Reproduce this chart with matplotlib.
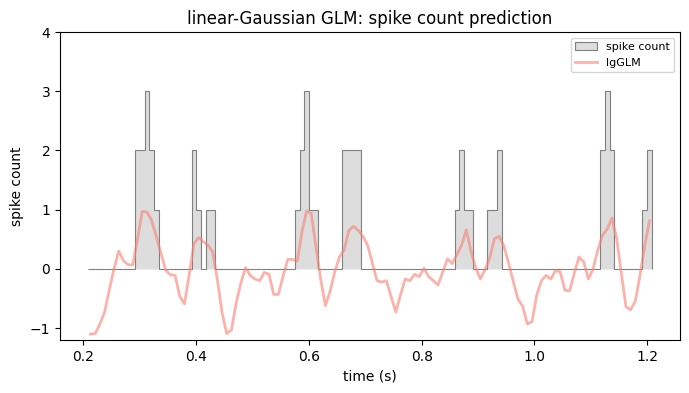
import numpy as np
import matplotlib
matplotlib.use("Agg")
import matplotlib.pyplot as plt

# time bins (1/120 s), bin edge indices 25..145
bin_dt = 1.0 / 120.0
first_bin = 25
n_bins = 120

# spike counts per bin (bin index -> count), all other bins are 0
spike_bins = [35, 36, 37, 38, 39, 47, 48, 50, 51, 69, 70, 71, 72, 73,
              79, 80, 81, 82, 103, 104, 105, 106, 110, 111, 112,
              134, 135, 136, 143, 144]
spike_vals = [2, 2, 3, 2, 1, 2, 1, 1, 1, 1, 2, 3, 1, 1,
              2, 2, 2, 2, 1, 2, 1, 1, 1, 1, 2,
              2, 3, 2, 1, 2]

# linear-Gaussian GLM prediction at bin centers (bins 25..144)
lgglm_pred = [
    -1.10, -1.09, -0.93, -0.73, -0.35, 0.00, 0.30, 0.14, 0.07, 0.07,
    0.50, 0.97, 0.96, 0.82, 0.55, 0.26, -0.02, -0.10, -0.11, -0.46,
    -0.59, -0.10, 0.42, 0.53, 0.46, 0.40, 0.29, -0.18, -0.74, -1.09,
    -1.03, -0.58, -0.24, 0.02, -0.11, -0.17, -0.20, -0.06, -0.09, -0.43,
    -0.43, -0.12, 0.16, 0.16, 0.13, 0.62, 0.98, 0.93, 0.37, -0.17,
    -0.62, -0.38, -0.05, 0.20, 0.32, 0.65, 0.72, 0.65, 0.55, 0.40,
    0.10, -0.20, -0.22, -0.20, -0.47, -0.73, -0.44, -0.17, -0.20, -0.09,
    -0.13, 0.01, -0.13, -0.20, -0.27, -0.05, 0.17, 0.09, 0.24, 0.40,
    0.66, 0.30, 0.02, -0.17, -0.01, 0.19, 0.51, 0.55, 0.39, 0.10,
    -0.21, -0.51, -0.63, -0.93, -0.89, -0.44, -0.20, -0.11, -0.17, -0.03,
    -0.05, -0.36, -0.37, -0.07, 0.20, 0.12, -0.17, 0.00, 0.32, 0.57,
    0.67, 0.86, 0.52, -0.07, -0.64, -0.69, -0.54, -0.10, 0.40, 0.81,
]

edges = (first_bin + np.arange(n_bins + 1)) * bin_dt
counts = np.zeros(n_bins)
for b, v in zip(spike_bins, spike_vals):
    counts[b - first_bin] = v
centers = (first_bin + np.arange(n_bins) + 0.5) * bin_dt

fig = plt.figure(figsize=(6.89, 3.93), dpi=100)
ax = fig.add_axes([60 / 689, 53 / 393, 620 / 689, 308 / 393])

ax.stairs(counts, edges, fill=True, facecolor='#dddddd', edgecolor='gray',
          linewidth=0.8, label='spike count')
ax.plot(centers, lgglm_pred, color='salmon', alpha=0.6, linewidth=2,
        label='lgGLM')

ax.set_ylim(-1.2, 4)
ax.set_xticks([0.2, 0.4, 0.6, 0.8, 1.0, 1.2])
ax.set_yticks([-1, 0, 1, 2, 3, 4])
ax.set_xlabel('time (s)')
ax.set_ylabel('spike count')
ax.set_title('linear-Gaussian GLM: spike count prediction')
ax.legend(loc='upper right', fontsize=8)

fig.savefig('out.png', dpi=100)
